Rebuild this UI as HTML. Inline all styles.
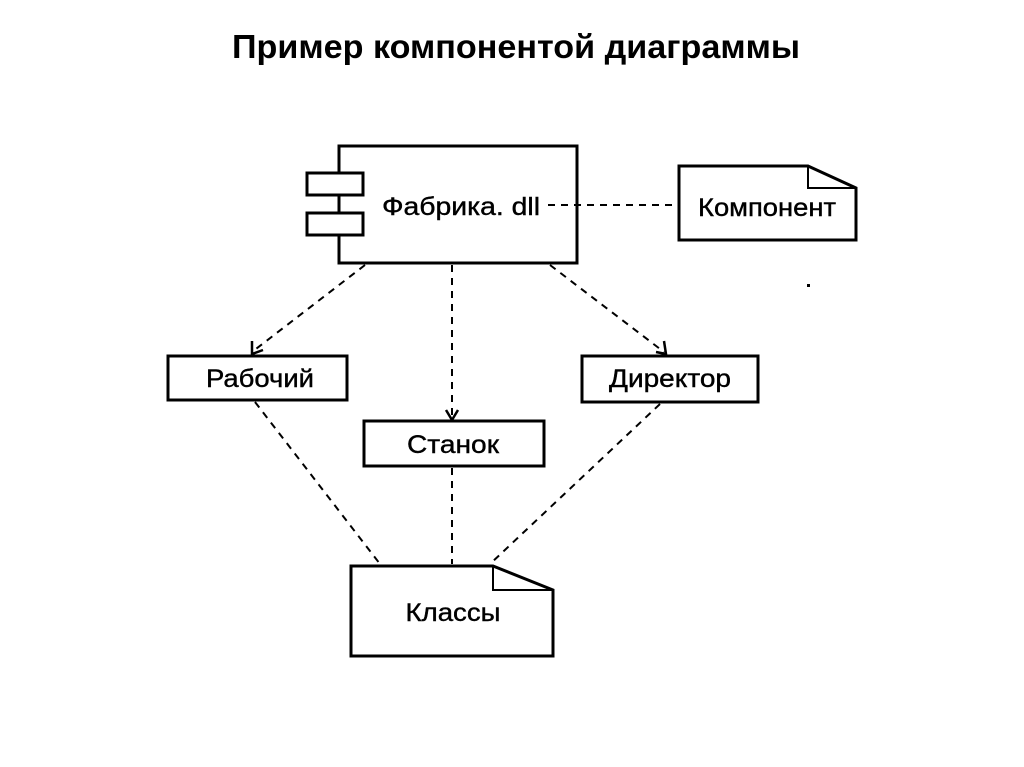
<!DOCTYPE html>
<html><head><meta charset="utf-8"><style>
html,body{margin:0;padding:0;background:#fff;width:1024px;height:767px;overflow:hidden}
</style></head><body>
<svg width="1024" height="767" viewBox="0 0 1024 767" xmlns="http://www.w3.org/2000/svg">
<text x="516" y="58" text-anchor="middle" font-family="Liberation Sans, sans-serif" font-weight="bold" font-size="33" textLength="568" lengthAdjust="spacingAndGlyphs">Пример компонентой диаграммы</text>
<g fill="#fff" stroke="#000" stroke-width="3">
<rect x="339" y="146" width="238" height="117"/>
<rect x="307" y="173" width="56" height="22"/>
<rect x="307" y="213" width="56" height="22"/>
<path d="M679 166 L808 166 L856 188 L856 240 L679 240 Z"/>
<path d="M808 166 L808 188 L856 188" fill="none" stroke-width="2"/>
<rect x="168" y="356" width="179" height="44"/>
<rect x="364" y="421" width="180" height="45"/>
<rect x="582" y="356" width="176" height="46"/>
<path d="M351 566 L493 566 L553 590 L553 656 L351 656 Z"/>
<path d="M493 566 L493 590 L553 590" fill="none" stroke-width="2"/>
</g>
<g stroke="#000" stroke-width="2" stroke-dasharray="7,6" fill="none">
<line x1="548" y1="205" x2="679" y2="205"/>
<line x1="365" y1="265" x2="252" y2="352"/>
<line x1="452" y1="265" x2="452" y2="418"/>
<line x1="550" y1="265" x2="664" y2="352"/>
<line x1="255" y1="402" x2="380" y2="564"/>
<line x1="452" y1="468" x2="452" y2="564"/>
<line x1="660" y1="404" x2="490" y2="564"/>
</g>
<g stroke="#000" stroke-width="2.5" fill="none">
<path d="M252 341 L252 354 L263 350"/>
<path d="M446 410 L452 420 L458 410"/>
<path d="M664 341 L666 354 L656 352"/>
</g>
<rect x="807" y="284" width="3" height="3" fill="#000"/>
<g font-family="Liberation Sans, sans-serif" font-size="25" text-anchor="middle" stroke="#000" stroke-width="0.4">
<text x="461" y="215" textLength="158" lengthAdjust="spacingAndGlyphs">Фабрика. dll</text>
<text x="767" y="216" textLength="138" lengthAdjust="spacingAndGlyphs">Компонент</text>
<text x="260" y="387" textLength="108" lengthAdjust="spacingAndGlyphs">Рабочий</text>
<text x="453" y="453" textLength="92" lengthAdjust="spacingAndGlyphs">Станок</text>
<text x="670" y="387" textLength="122" lengthAdjust="spacingAndGlyphs">Директор</text>
<text x="453" y="621" textLength="95" lengthAdjust="spacingAndGlyphs">Классы</text>
</g>
</svg>
</body></html>
